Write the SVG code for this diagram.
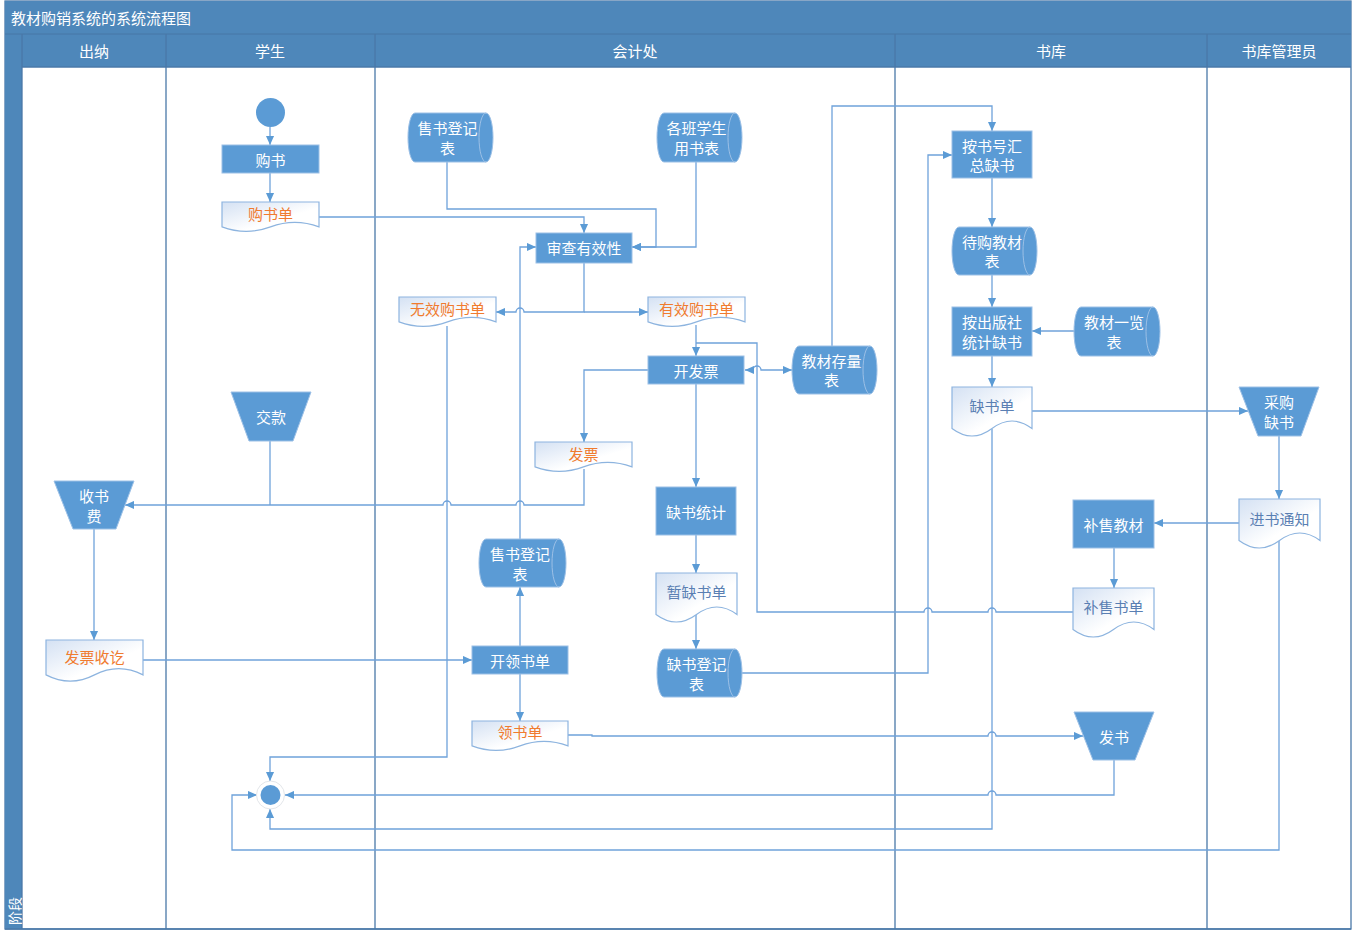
<svg xmlns="http://www.w3.org/2000/svg" width="1352" height="931" viewBox="0 0 1352 931">
<defs>
<style>
text{font-family:"Noto Sans CJK SC","Noto Sans",sans-serif;dominant-baseline:central;text-anchor:middle;font-size:15px}
.hdr{fill:#4E87BA}
.hdrtxt{fill:#ffffff}
.lane{stroke:#4A78A8;stroke-width:1.3;fill:none}
.proc{fill:#5B9BD5;stroke:#9CC0E6;stroke-width:1}
.ntxt{fill:#ffffff}
.doc{fill:url(#dg);stroke:#8DB4DF;stroke-width:1.2}
.otxt{fill:#F07B2F}
.btxt{fill:#5A7FB3}
.inner{fill:none;stroke:#9CC0E6;stroke-width:1}
.cn{fill:none;stroke:#6FA2DA;stroke-width:1.3}
.cna{fill:none;stroke:#6FA2DA;stroke-width:1.3;marker-end:url(#ah)}
</style>
<linearGradient id="dg" x1="0" y1="0" x2="1" y2="1">
<stop offset="0" stop-color="#D4E1F3"/>
<stop offset="0.6" stop-color="#FFFFFF"/>
</linearGradient>
<marker id="ah" viewBox="0 0 10 10" refX="10" refY="5" markerWidth="9" markerHeight="9" markerUnits="userSpaceOnUse" orient="auto-start-reverse">
<path d="M0,0.5 L10,5 L0,9.5 Z" fill="#5B9BD5"/>
</marker>
</defs>

<g id="frame">
<rect x="5" y="1" width="1346" height="928" fill="#ffffff" stroke="#4A78A8" stroke-width="1.3"/>
<rect class="hdr" x="5" y="1" width="1346" height="33"/>
<rect class="hdr" x="5" y="34" width="1346" height="33"/>
<rect class="hdr" x="5" y="34" width="17" height="895"/>
<line x1="5" y1="34" x2="1351" y2="34" stroke="#4676A6" stroke-width="1"/>
<line class="lane" x1="22" y1="34" x2="22" y2="929"/>
<line class="lane" x1="166" y1="34" x2="166" y2="929"/>
<line class="lane" x1="375" y1="34" x2="375" y2="929"/>
<line class="lane" x1="895" y1="34" x2="895" y2="929"/>
<line class="lane" x1="1207" y1="34" x2="1207" y2="929"/>
<line class="lane" x1="22" y1="67" x2="1351" y2="67"/>
<line class="lane" x1="5" y1="929" x2="1351" y2="929"/>
<text class="hdrtxt" x="11" y="17.5" style="text-anchor:start">教材购销系统的系统流程图</text>
<text class="hdrtxt" x="94" y="50">出纳</text>
<text class="hdrtxt" x="270" y="50">学生</text>
<text class="hdrtxt" x="635" y="50">会计处</text>
<text class="hdrtxt" x="1051" y="50">书库</text>
<text class="hdrtxt" x="1279" y="50">书库管理员</text>
<text class="hdrtxt" transform="translate(14,911) rotate(-90)" style="font-size:14px">阶段</text>
</g>

<g id="connectors">
<path class="cna" d="M270,127 V145"/>
<path class="cna" d="M270,173 V202"/>
<path class="cna" d="M319,217 H584 V233"/>
<path class="cna" d="M447,162 V209 H656 V247 H632"/>
<path class="cna" d="M696,162 V247 H632"/>
<path class="cna" d="M584,263 V312 H524 A4,4 0 0 0 516,312 H496"/>
<path class="cna" d="M584,312 H648"/>
<path class="cna" d="M520,539 V247 H536"/>
<path class="cna" d="M447,326 V757 H270 V781"/>
<path class="cna" d="M696,325 V356"/>
<path class="cna" d="M745,370 H753 A4,4 0 0 1 761,370 H792" style="marker-start:url(#ah)"/>
<path class="cn" d="M1073,612 H996 A4,4 0 0 0 988,612 H932 A4,4 0 0 0 924,612 H757 V343 H696"/>
<path class="cna" d="M832,346 V106 H992 V131"/>
<path class="cna" d="M648,370 H584 V442"/>
<path class="cna" d="M584,469 V505 H524 A4,4 0 0 0 516,505 H451 A4,4 0 0 0 443,505 H125"/>
<path class="cn" d="M270,441 V505"/>
<path class="cna" d="M696,384 V487"/>
<path class="cna" d="M696,535 V573"/>
<path class="cna" d="M696,615 V649"/>
<path class="cna" d="M742,673 H928 V155 H952"/>
<path class="cna" d="M94,529 V640"/>
<path class="cna" d="M143,660 H472"/>
<path class="cna" d="M520,646 V587"/>
<path class="cna" d="M520,674 V721"/>
<path class="cna" d="M568,735 H592 V736 H988 A4,4 0 0 1 996,736 H1083"/>
<path class="cna" d="M1114,760 V795 H996 A4,4 0 0 0 988,795 H285"/>
<path class="cna" d="M992,429 V829 H270 V809"/>
<path class="cna" d="M1279,541 V850 H232 V795 H257"/>
<path class="cna" d="M1032,411 H1248"/>
<path class="cna" d="M1279,436 V499"/>
<path class="cna" d="M1239,523 H1154"/>
<path class="cna" d="M1114,548 V588"/>
<path class="cna" d="M992,178 V227"/>
<path class="cna" d="M992,275 V307"/>
<path class="cna" d="M1074,331 H1032"/>
<path class="cna" d="M992,356 V387"/>
</g>

<g id="start"><circle cx="270.5" cy="112.5" r="14.5" fill="#5B9BD5"/></g>
<g id="end"><circle cx="270.5" cy="795" r="14" fill="#ffffff" stroke="#E3E6EA" stroke-width="1"/><circle cx="270.5" cy="795" r="10" fill="#5B9BD5"/></g>

<g id="n-goushu"><rect class="proc" x="222" y="145" width="97" height="28"/><text class="ntxt" x="270.5" y="159">购书</text></g>
<g id="n-goushudan"><path class="doc" d="M222,202 H319 V226.9 Q294.75,217.9 270.5,226.9 T222,226.9 Z"/><text class="otxt" x="270.5" y="213">购书单</text></g>

<g id="n-shoushu1"><path class="proc" d="M415,113 H486 A7,24.5 0 0 1 486,162 H415 A7,24.5 0 0 1 415,113 Z"/><path class="inner" d="M486,113 A7,24.5 0 0 0 486,162"/><text class="ntxt" x="447.5" y="127">售书登记</text><text class="ntxt" x="447.5" y="147">表</text></g>
<g id="n-geban"><path class="proc" d="M664,113 H735 A7,24.5 0 0 1 735,162 H664 A7,24.5 0 0 1 664,113 Z"/><path class="inner" d="M735,113 A7,24.5 0 0 0 735,162"/><text class="ntxt" x="696.5" y="127">各班学生</text><text class="ntxt" x="696.5" y="147">用书表</text></g>

<g id="n-shencha"><rect class="proc" x="536" y="233" width="96" height="30"/><text class="ntxt" x="584" y="247.5">审查有效性</text></g>
<g id="n-wuxiao"><path class="doc" d="M399,297 H496 V321.9 Q471.75,312.9 447.5,321.9 T399,321.9 Z"/><text class="otxt" x="447.5" y="308">无效购书单</text></g>
<g id="n-youxiao"><path class="doc" d="M648,297 H745 V321.9 Q720.75,312.9 696.5,321.9 T648,321.9 Z"/><text class="otxt" x="696.5" y="308">有效购书单</text></g>

<g id="n-kaifapiao"><rect class="proc" x="648" y="356" width="96" height="28"/><text class="ntxt" x="696" y="370">开发票</text></g>
<g id="n-kucun"><path class="proc" d="M799,346 H870 A7,24 0 0 1 870,394 H799 A7,24 0 0 1 799,346 Z"/><path class="inner" d="M870,346 A7,24 0 0 0 870,394"/><text class="ntxt" x="831.5" y="360">教材存量</text><text class="ntxt" x="831.5" y="379.5">表</text></g>
<g id="n-fapiao"><path class="doc" d="M535,442 H632 V466.9 Q607.75,457.9 583.5,466.9 T535,466.9 Z"/><text class="otxt" x="583.5" y="453">发票</text></g>
<g id="n-queshutongji"><rect class="proc" x="656" y="487" width="80" height="48"/><text class="ntxt" x="696" y="511">缺书统计</text></g>
<g id="n-shoushu2"><path class="proc" d="M486,539 H559 A7,24 0 0 1 559,587 H486 A7,24 0 0 1 486,539 Z"/><path class="inner" d="M559,539 A7,24 0 0 0 559,587"/><text class="ntxt" x="520" y="553">售书登记</text><text class="ntxt" x="520" y="573">表</text></g>
<g id="n-zanque"><path class="doc" d="M656,573 H737 V614.5 Q716.75,599.5 696.5,614.5 T656,614.5 Z"/><text class="btxt" x="696.5" y="591">暂缺书单</text></g>
<g id="n-kailingshu"><rect class="proc" x="472" y="646" width="96" height="28"/><text class="ntxt" x="520" y="660">开领书单</text></g>
<g id="n-quedengji"><path class="proc" d="M664,649 H735 A7,24 0 0 1 735,697 H664 A7,24 0 0 1 664,649 Z"/><path class="inner" d="M735,649 A7,24 0 0 0 735,697"/><text class="ntxt" x="696.5" y="663">缺书登记</text><text class="ntxt" x="696.5" y="683">表</text></g>
<g id="n-lingshudan"><path class="doc" d="M472,721 H568 V745.9 Q544,736.9 520,745.9 T472,745.9 Z"/><text class="otxt" x="520" y="731">领书单</text></g>

<g id="n-jiaokuan"><path class="proc" d="M231,392 H311 L293,441 H249 Z"/><text class="ntxt" x="271" y="416">交款</text></g>
<g id="n-shoushufei"><path class="proc" d="M54,481 H134 L116,529 H73 Z"/><text class="ntxt" x="94" y="495.5">收书</text><text class="ntxt" x="94" y="515">费</text></g>
<g id="n-fapiaoshouqi"><path class="doc" d="M46,640 H143 V674.9 Q118.75,662.3 94.5,674.9 T46,674.9 Z"/><text class="otxt" x="94.5" y="656">发票收讫</text></g>

<g id="n-anshuhao"><rect class="proc" x="952" y="131" width="80" height="47"/><text class="ntxt" x="992" y="145">按书号汇</text><text class="ntxt" x="992" y="164.5">总缺书</text></g>
<g id="n-daigou"><path class="proc" d="M959,227 H1030 A7,24 0 0 1 1030,275 H959 A7,24 0 0 1 959,227 Z"/><path class="inner" d="M1030,227 A7,24 0 0 0 1030,275"/><text class="ntxt" x="992" y="241">待购教材</text><text class="ntxt" x="992" y="260.5">表</text></g>
<g id="n-anchuban"><rect class="proc" x="952" y="307" width="80" height="49"/><text class="ntxt" x="992" y="321.5">按出版社</text><text class="ntxt" x="992" y="341">统计缺书</text></g>
<g id="n-yilan"><path class="proc" d="M1081,307 H1153 A7,24.5 0 0 1 1153,356 H1081 A7,24.5 0 0 1 1081,307 Z"/><path class="inner" d="M1153,307 A7,24.5 0 0 0 1153,356"/><text class="ntxt" x="1114" y="321.5">教材一览</text><text class="ntxt" x="1114" y="341">表</text></g>
<g id="n-queshudan"><path class="doc" d="M952,387 H1032 V428.5 Q1012,413.5 992,428.5 T952,428.5 Z"/><text class="btxt" x="992" y="405">缺书单</text></g>
<g id="n-busoujiaocai"><rect class="proc" x="1073" y="500" width="81" height="48"/><text class="ntxt" x="1113.5" y="524">补售教材</text></g>
<g id="n-bushoushudan"><path class="doc" d="M1073,588 H1154 V629.5 Q1133.75,614.5 1113.5,629.5 T1073,629.5 Z"/><text class="btxt" x="1113.5" y="606">补售书单</text></g>
<g id="n-fashu"><path class="proc" d="M1074,712 H1154 L1135,760 H1093 Z"/><text class="ntxt" x="1114" y="736">发书</text></g>

<g id="n-caigou"><path class="proc" d="M1239,387 H1319 L1301,436 H1258 Z"/><text class="ntxt" x="1279" y="401.5">采购</text><text class="ntxt" x="1279" y="421">缺书</text></g>
<g id="n-jinshu"><path class="doc" d="M1239,499 H1320 V540.5 Q1299.75,525.5 1279.5,540.5 T1239,540.5 Z"/><text class="btxt" x="1279.5" y="518">进书通知</text></g>
</svg>
